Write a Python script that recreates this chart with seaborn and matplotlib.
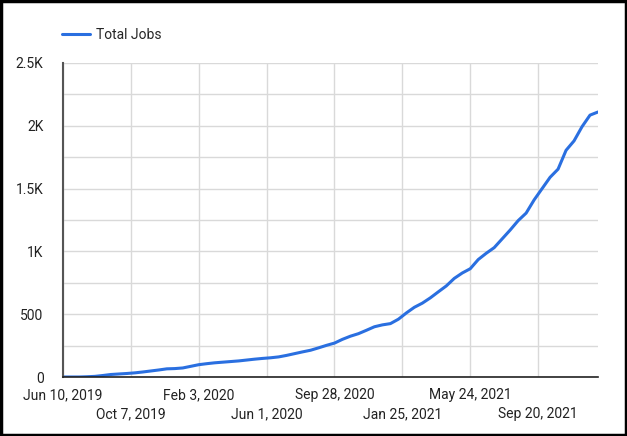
import matplotlib
matplotlib.use("Agg")
import matplotlib.pyplot as plt
import matplotlib.dates as mdates
import matplotlib.transforms as mtransforms
from matplotlib.patches import Rectangle
from matplotlib.lines import Line2D
from matplotlib.ticker import MultipleLocator, FixedLocator
import seaborn as sns
import pandas as pd

# ---- data (biweekly) ----
start_date = "2019-06-10"
total_jobs = [0, 0, 0, 2, 5, 12, 20, 24, 28, 33,
              40, 48, 56, 65, 67, 72, 85, 98, 106, 113,
              118, 123, 128, 135, 142, 148, 153, 160, 172, 186,
              200, 213, 232, 252, 270, 300, 325, 345, 372, 400,
              415, 425, 460, 510, 555, 588, 630, 678, 725, 785,
              828, 862, 935, 985, 1030, 1100, 1170, 1245, 1305, 1410,
              1500, 1590, 1655, 1805, 1880, 1993, 2085, 2110]
tick_dates = ["2019-06-10", "2019-10-07", "2020-02-03", "2020-06-01",
              "2020-09-28", "2021-01-25", "2021-05-24", "2021-09-20"]
tick_labels = ["Jun 10, 2019", "Oct 7, 2019", "Feb 3, 2020", "Jun 1, 2020",
               "Sep 28, 2020", "Jan 25, 2021", "May 24, 2021", "Sep 20, 2021"]
y_ticks = [0, 500, 1000, 1500, 2000, 2500]
y_tick_labels = ["0", "500", "1K", "1.5K", "2K", "2.5K"]
series_name = "Total Jobs"

dates = pd.date_range(start=start_date, periods=len(total_jobs), freq="14D")
df = pd.DataFrame({"date": dates, "value": total_jobs, "series": series_name})

sns.set_theme(style="white")
plt.rcParams["font.family"] = ["Roboto", "DejaVu Sans"]

fig = plt.figure(figsize=(6.27, 4.36), dpi=100)
ax = fig.add_axes([63/627, 1-377/436, (598-63)/627, (377-63)/436])

line_color = "#2a6fe0"
sns.lineplot(data=df, x="date", y="value", hue="series", palette=[line_color],
             linewidth=2.2, ax=ax, legend=False)

ax.set_xlim(pd.Timestamp(start_date), pd.Timestamp(start_date) + pd.Timedelta(days=938))
ax.set_ylim(0, 2500)

tick_nums = mdates.date2num(pd.to_datetime(tick_dates))
ax.xaxis.set_major_locator(FixedLocator(tick_nums))
ax.set_xticklabels(tick_labels, fontsize=10, color="#222222")
ax.yaxis.set_major_locator(FixedLocator(y_ticks))
ax.yaxis.set_minor_locator(MultipleLocator(250))
ax.set_yticklabels(y_tick_labels, fontsize=10, color="#222222")

ax.grid(True, which="both", axis="y", color="#d9d9d9", linewidth=1)
ax.grid(True, which="major", axis="x", color="#d9d9d9", linewidth=1)
ax.tick_params(axis="both", which="both", length=0)
ax.tick_params(axis="y", pad=14)
ax.tick_params(axis="x", pad=8)
ax.set_xlabel("")
ax.set_ylabel("")

# stagger the odd x labels onto a second row
shift = mtransforms.ScaledTranslation(0, -19/100, fig.dpi_scale_trans)
for i, lab in enumerate(ax.get_xticklabels()):
    if i % 2 == 1:
        lab.set_transform(lab.get_transform() + shift)

for s in ["top", "right"]:
    ax.spines[s].set_visible(False)
ax.spines["left"].set_color("#555555")
ax.spines["left"].set_linewidth(1.5)
ax.spines["bottom"].set_color("#222222")
ax.spines["bottom"].set_linewidth(1.2)

# legend
handle = Line2D([0], [0], color=line_color, linewidth=2.2)
fig.legend([handle], [series_name], loc="center left",
           bbox_to_anchor=(62/627, 1-35/436), frameon=False,
           borderpad=0, borderaxespad=0,
           fontsize=10, handlelength=2.0, handletextpad=0.45)

# outer border
fig.patches.append(Rectangle((0.002, 0.003), 0.996, 0.994, transform=fig.transFigure,
                             fill=False, edgecolor="black", linewidth=2.5))

fig.savefig("out.png", dpi=100)
